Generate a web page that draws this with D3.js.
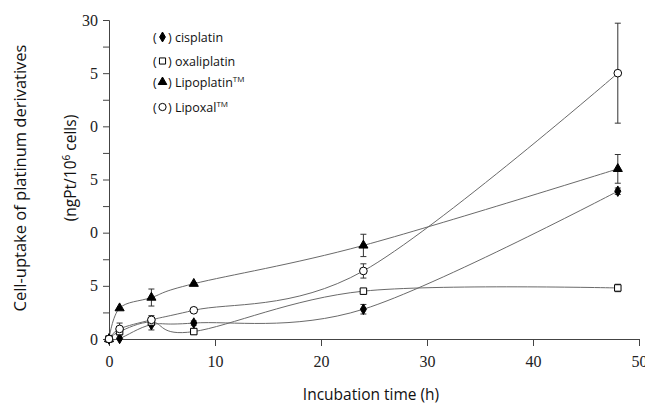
<!DOCTYPE html>
<html>
<meta charset="utf-8">
<style>
  body { margin: 0; padding: 0; background: #fff; }
  .tick text { font-family: "Liberation Serif", serif; font-size: 16px; fill: #222; }
  .axis-title { font-family: "Open Sans", sans-serif; font-size: 15.5px; fill: #111; }
  .legend text { font-family: "Open Sans", sans-serif; font-size: 12.5px; fill: #111; }
</style>
<body>
<div id="chart"></div>
<script src="https://d3js.org/d3.v7.min.js"></script>
<script>

// incubation times (h)
var times = [0, 1, 4, 8, 24, 48];

// Pt uptake (ngPt / 10^6 cells) and error bars
var cisplatin      = [0, 0.05, 1.35, 1.5, 2.8, 13.9];
var cisplatinErr   = [0, 0, 0.5, 0.2, 0.45, 0.3];
var oxaliplatin    = [0, 0.7, 1.6, 0.7, 4.5, 4.8];
var oxaliplatinErr = [0, 0.3, 0.2, 0.25, 0.15, 0.35];
var lipoplatin     = [0, 2.9, 3.9, 5.2, 8.8, 16.0];
var lipoplatinErr  = [0, 0, 0.8, 0.1, 1.05, 1.35];
var lipoxal        = [0, 0.95, 1.8, 2.7, 6.4, 25.0];
var lipoxalErr     = [0, 0.55, 0.4, 0.2, 0.67, 4.7];

// axis ticks and their labels (as printed in the figure)
var xTicks = [0, 10, 20, 30, 40, 50];
var yTicks = [0, 2.5, 5, 7.5, 10, 12.5, 15, 17.5, 20, 22.5, 25, 27.5, 30];
var yLabelValues = [30, 25, 20, 15, 10, 5, 0];
var yLabels = ["30", "5", "0", "5", "0", "5", "0"];

var seriesNames = ["cisplatin", "oxaliplatin", "Lipoplatin", "Lipoxal"];
var seriesTM = [false, false, true, true];

var width = 645, height = 406;

var svg = d3.select("#chart").append("svg")
    .attr("width", width)
    .attr("height", height);

var x = d3.scaleLinear().domain([0, 50]).range([109, 639]);
var y = d3.scaleLinear().domain([0, 30]).range([339, 20]);

// axes
var yLabelMap = {};
yLabelValues.forEach(function(v, i) { yLabelMap[v] = yLabels[i]; });

svg.append("g")
    .attr("transform", "translate(" + x(0) + ",0)")
    .call(d3.axisLeft(y).tickValues(yTicks).tickSize(6).tickPadding(5)
        .tickFormat(function(d) { return yLabelMap[d] !== undefined ? yLabelMap[d] : ""; }))
    .call(function(g) {
        g.select(".domain").attr("stroke", "#444");
        g.selectAll(".tick line").attr("stroke", "#444");
    });

svg.append("g")
    .attr("transform", "translate(0," + y(0) + ")")
    .call(d3.axisBottom(x).tickValues(xTicks).tickSize(7).tickPadding(10))
    .call(function(g) {
        g.select(".domain").attr("stroke", "#444");
        g.selectAll(".tick line").attr("stroke", "#444");
    });

// axis titles
svg.append("text")
    .attr("class", "axis-title")
    .attr("x", 371).attr("y", 400)
    .attr("text-anchor", "middle")
    .text("Incubation time (h)");

svg.append("text")
    .attr("class", "axis-title")
    .attr("transform", "translate(26,178) rotate(-90)")
    .attr("text-anchor", "middle")
    .style("font-size", "16.5px")
    .text("Cell-uptake of platinum derivatives");

var t2 = svg.append("text")
    .attr("class", "axis-title")
    .attr("transform", "translate(76,168) rotate(-90)")
    .attr("text-anchor", "middle");
t2.append("tspan").text("(ngPt/10");
t2.append("tspan").attr("dy", -6).style("font-size", "10px").text("6");
t2.append("tspan").attr("dy", 6).text(" cells)");

// data
var allSeries = [
  {name: "cisplatin", vals: cisplatin, err: cisplatinErr, shape: d3.symbolDiamond, fill: "#000", size: 32},
  {name: "oxaliplatin", vals: oxaliplatin, err: oxaliplatinErr, shape: d3.symbolSquare, fill: "#fff", size: 42},
  {name: "Lipoplatin", vals: lipoplatin, err: lipoplatinErr, shape: d3.symbolTriangle, fill: "#000", size: 36},
  {name: "Lipoxal", vals: lipoxal, err: lipoxalErr, shape: d3.symbolCircle, fill: "#fff", size: 46}
];

var line = d3.line()
    .x(function(d) { return x(d.t); })
    .y(function(d) { return y(d.v); })
    .curve(d3.curveCardinal.tension(0));

allSeries.forEach(function(s) {
    s.pts = times.map(function(t, i) { return {t: t, v: s.vals[i], e: s.err[i]}; });
    svg.append("path")
        .datum(s.pts)
        .attr("d", line)
        .attr("fill", "none")
        .attr("stroke", "#6a6a6a")
        .attr("stroke-width", 1);
});

// error bars
allSeries.forEach(function(s) {
    var g = svg.append("g").attr("stroke", "#333").attr("stroke-width", 1);
    s.pts.filter(function(d) { return d.e > 0; }).forEach(function(d) {
        g.append("line").attr("x1", x(d.t)).attr("x2", x(d.t))
            .attr("y1", y(d.v - d.e)).attr("y2", y(d.v + d.e));
        [d.v - d.e, d.v + d.e].forEach(function(v) {
            g.append("line").attr("x1", x(d.t) - 3).attr("x2", x(d.t) + 3)
                .attr("y1", y(v)).attr("y2", y(v));
        });
    });
});

// markers
allSeries.forEach(function(s) {
    svg.append("g").selectAll("path")
        .data(s.pts)
        .join("path")
        .attr("transform", function(d) { return "translate(" + x(d.t) + "," + y(d.v) + ")"; })
        .attr("d", d3.symbol().type(s.shape).size(s.size))
        .attr("fill", s.fill)
        .attr("stroke", "#000")
        .attr("stroke-width", 1);
});

// legend
var legendY = [37, 61, 82, 107];
var legend = svg.append("g").attr("class", "legend");
allSeries.forEach(function(s, i) {
    var ly = legendY[i];
    legend.append("text").attr("x", 153).attr("y", ly + 4.5).text("(");
    legend.append("path")
        .attr("transform", "translate(" + 162.5 + "," + ly + ")")
        .attr("d", d3.symbol().type(s.shape).size(s.size * 0.9))
        .attr("fill", s.fill)
        .attr("stroke", "#000");
    var tx = legend.append("text").attr("x", 168).attr("y", ly + 4.5);
    tx.append("tspan").text(") " + seriesNames[i]);
    if (seriesTM[i]) {
        tx.append("tspan").attr("dy", -5).style("font-size", "8px").text("TM");
    }
});

</script>
</body>
</html>
